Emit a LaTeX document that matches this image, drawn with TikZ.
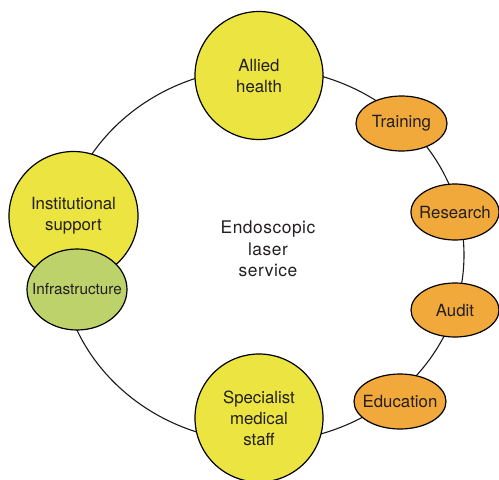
\documentclass[tikz,border=0pt]{standalone}
\usepackage{fontspec}
\setmainfont{TeX Gyre Heros}
\usetikzlibrary{shapes.geometric}
\definecolor{ylw}{RGB}{236,228,64}
\definecolor{org}{RGB}{242,169,59}
\definecolor{grn}{RGB}{190,210,108}
\definecolor{txt}{RGB}{35,31,32}
\tikzset{
  bub/.style={draw=black, line width=1.2pt, inner sep=0pt},
  lab/.style={label={[text=txt, align=center, font=\fontsize{16.8}{21}\selectfont]center:#1}},
  bigc/.style={bub, circle, fill=ylw},
  smalle/.style={bub, ellipse, fill=org},
  ring/.style={draw=black!90, line width=1.1pt, ellipse, inner sep=0pt}
}
\begin{document}
\begin{tikzpicture}[x=1pt,y=-1pt]
\useasboundingbox (0,0) rectangle (499,480);
\node[ring, minimum width=404pt, minimum height=374pt] (ringe) at (262,255) {};
\node[text=txt, align=center, font=\addfontfeature{LetterSpace=3}\fontsize{17.4}{21.5}\selectfont] (centre) at (268,249) {Endoscopic\\laser\\service};
\node[bigc, minimum size=128pt, lab={Allied\\health}] (allied) at (259,75.5) {};
\node[bigc, minimum size=128pt, label={[text=txt, align=center, font=\fontsize{16.8}{21}\selectfont]center:Specialist\\medical\\staff}] (spec) at (259,418) {};
\node[bigc, minimum size=129pt, lab={Institutional\\support}] (inst) at (73.5,216) {};
\node[bub, ellipse, fill=grn, minimum width=100pt, minimum height=81pt, label={[text=txt, font=\fontsize{15.3}{19}\selectfont]center:Infrastructure}] (infra) at (77,289.5) {};
\node[smalle, minimum width=91pt, minimum height=55pt, lab={Training}] (train) at (401.5,123.5) {};
\node[smalle, minimum width=88pt, minimum height=56pt, lab={Research}] (res) at (455,212) {};
\node[smalle, minimum width=88pt, minimum height=54pt, lab={Audit}] (audit) at (455,310) {};
\node[smalle, minimum width=92pt, minimum height=55pt, lab={Education}] (edu) at (400,401.5) {};
\end{tikzpicture}
\end{document}
